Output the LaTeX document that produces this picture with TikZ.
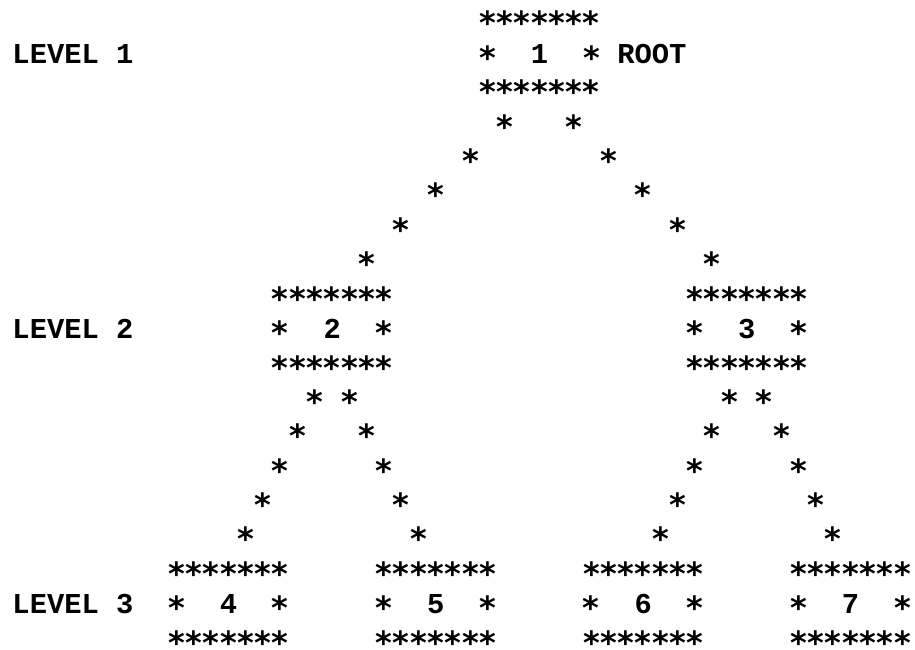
\documentclass[tikz,border=0pt]{standalone}
\usepackage{fontspec}
\newfontfamily\typew{Liberation Mono}
\newfontfamily\astfont{DejaVu Sans}
\usetikzlibrary{calc,decorations.markings}
% one typed asterisk in a cell of the typewriter grid
\newcommand\tast{\makebox[17.28pt]{\raisebox{-6pt}{\astfont\bfseries\fontsize{32}{34}\selectfont *}}}
\newcommand\tbar{\tast\tast\tast\tast\tast\tast\tast}
\tikzset{
  tw/.style={font={\typew\bfseries\fontsize{28.8}{34.4}\selectfont}, inner sep=0pt, outer sep=0pt, anchor=base},
  lvl/.style={tw, anchor=base west},
  starline/.style={decorate, decoration={markings,
    mark=at position 0 with {\node[tw]{\tast};},
    mark=at position 0.25 with {\node[tw]{\tast};},
    mark=at position 0.5 with {\node[tw]{\tast};},
    mark=at position 0.75 with {\node[tw]{\tast};},
    mark=at position 0.9999 with {\node[tw]{\tast};}}}
}
% name, column, row, number
\newcommand\treebox[4]{%
  \node[tw] (#1) at ({176.64+17.28*#2},{29+34.4*#3}) {\tast\phantom{00}#4\phantom{00}\tast};
  \node[tw] (#1t) at ($(#1.base)+(0,-34.4)$) {\tbar};
  \node[tw] (#1b) at ($(#1.base)+(0,34.4)$) {\tbar};
}
\begin{document}
\begin{tikzpicture}[x=1pt,y=-1pt]
\fill[white] (0,0) rectangle (915,650);
\useasboundingbox (0,0) rectangle (915,650);
\treebox{b1}{21}{1}{1}
\treebox{b2}{9}{9}{2}
\treebox{b3}{33}{9}{3}
\treebox{b4}{3}{17}{4}
\treebox{b5}{15}{17}{5}
\treebox{b6}{27}{17}{6}
\treebox{b7}{39}{17}{7}
\node[lvl] (root) at ($(b1.base east)+(17.28,0)$) {ROOT};
\node[lvl] (lev1) at (12.5,{29+34.4*1}) {LEVEL 1};
\node[lvl] (lev2) at (12.5,{29+34.4*9}) {LEVEL 2};
\node[lvl] (lev3) at (12.5,{29+34.4*17}) {LEVEL 3};
% connectors drawn as rows of asterisks
\path[starline] ($(b1b.base)+(-34.56,34.4)$) -- ($(b2t.base)+(34.56,-34.4)$);
\path[starline] ($(b1b.base)+(34.56,34.4)$) -- ($(b3t.base)+(-34.56,-34.4)$);
\path[starline] ($(b2b.base)+(-17.28,34.4)$) -- ($(b4t.base)+(17.28,-34.4)$);
\path[starline] ($(b2b.base)+(17.28,34.4)$) -- ($(b5t.base)+(-17.28,-34.4)$);
\path[starline] ($(b3b.base)+(-17.28,34.4)$) -- ($(b6t.base)+(17.28,-34.4)$);
\path[starline] ($(b3b.base)+(17.28,34.4)$) -- ($(b7t.base)+(-17.28,-34.4)$);
\end{tikzpicture}
\end{document}
